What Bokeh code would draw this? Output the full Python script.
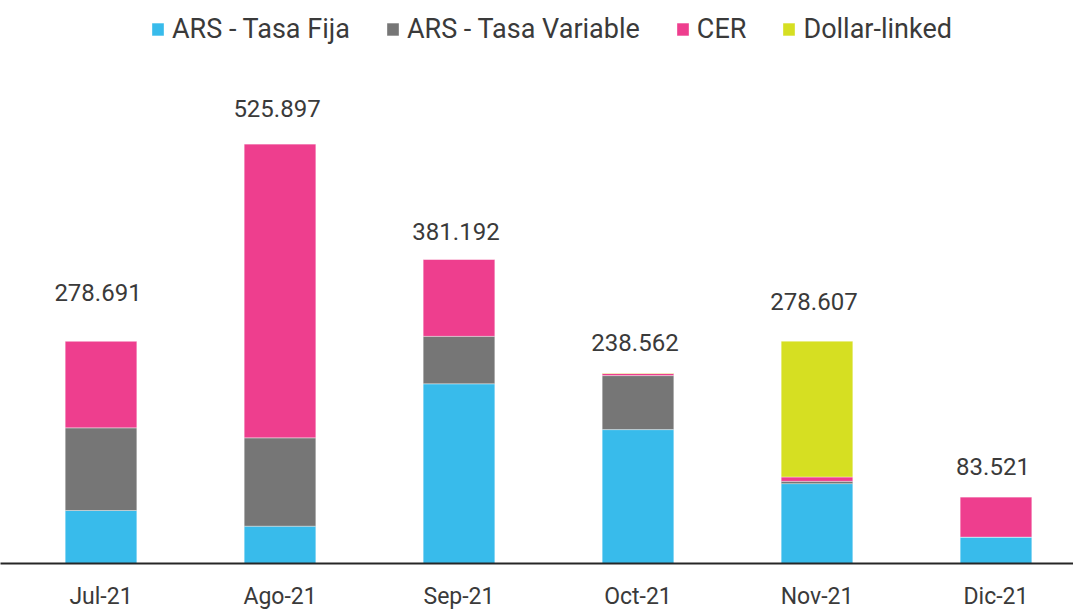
from bokeh.plotting import figure
from bokeh.models import ColumnDataSource, Range1d, FixedTicker, Legend, LegendItem
from bokeh.core.properties import value
from bokeh.embed import file_html
from bokeh.resources import INLINE

# ---- data (thousands of millions of ARS) ----
months = ["Jul-21", "Ago-21", "Sep-21", "Oct-21", "Nov-21", "Dic-21"]
tasa_fija = [66.4, 46.8, 225.2, 167.8, 100.1, 33.1]
tasa_variable = [103.6, 110.7, 59.5, 67.7, 2.9, 0.0]
cer = [108.7, 368.4, 96.5, 2.6, 5.4, 50.4]
dollar_linked = [0.0, 0.0, 0.0, 0.5, 170.2, 0.0]
totals = [278.691, 525.897, 381.192, 238.562, 278.607, 83.521]
total_labels = ["278.691", "525.897", "381.192", "238.562", "278.607", "83.521"]

series = ["tasa_fija", "tasa_variable", "cer", "dollar_linked"]
series_names = ["ARS - Tasa Fija", "ARS - Tasa Variable", "CER", "Dollar-linked"]
colors = ["#38BBEB", "#767676", "#EE3E8E", "#D6DF22"]
label_gap = [49, 35, 28, 31, 40, 30]  # px offset of label above bar top (style)

FONT = "Roboto"
TXT = "#3A3A3A"

xs = list(range(len(months)))
src = ColumnDataSource(dict(x=xs, tasa_fija=tasa_fija, tasa_variable=tasa_variable,
                            cer=cer, dollar_linked=dollar_linked))
lab = ColumnDataSource(dict(x=xs, y=totals, t=total_labels, off=[-g for g in label_gap]))

p = figure(width=1073, height=612, output_backend="svg", toolbar_location=None,
           x_range=Range1d(-0.5615, 5.433), y_range=Range1d(0, 705.6),
           min_border_left=0, min_border_right=0, min_border_top=0, min_border_bottom=46)
p.outline_line_color = None
p.xgrid.visible = False
p.ygrid.visible = False
p.yaxis.visible = False

renderers = p.vbar_stack(series, x="x", width=0.4, color=colors, source=src,
                         line_color="white", line_width=0.6, line_alpha=0.6)

p.text(x="x", y="y", text="t", source=lab, text_align="center",
       text_baseline="alphabetic", y_offset="off", x_offset=-3,
       text_font=value(FONT), text_font_size="24px", text_color=TXT)

ax = p.xaxis[0]
ax.ticker = FixedTicker(ticks=xs)
ax.major_label_overrides = {i: m for i, m in enumerate(months)}
ax.major_tick_line_color = None
ax.minor_tick_line_color = None
ax.major_tick_out = 0
ax.major_tick_in = 0
ax.major_label_standoff = 19
ax.axis_line_color = "#262626"
ax.axis_line_width = 2
ax.major_label_text_font = FONT
ax.major_label_text_font_size = "23px"
ax.major_label_text_color = TXT

legend = Legend(items=[LegendItem(label=n, renderers=[r]) for n, r in zip(series_names, renderers)],
                orientation="horizontal", location=(150, 518),
                padding=0, margin=0, spacing=35, label_standoff=7,
                glyph_width=15, glyph_height=16,
                border_line_color=None, background_fill_alpha=0,
                label_text_font=FONT, label_text_font_size="27px",
                label_text_color=TXT)
p.add_layout(legend, "center")

open("out.html", "w").write(file_html(p, INLINE))
